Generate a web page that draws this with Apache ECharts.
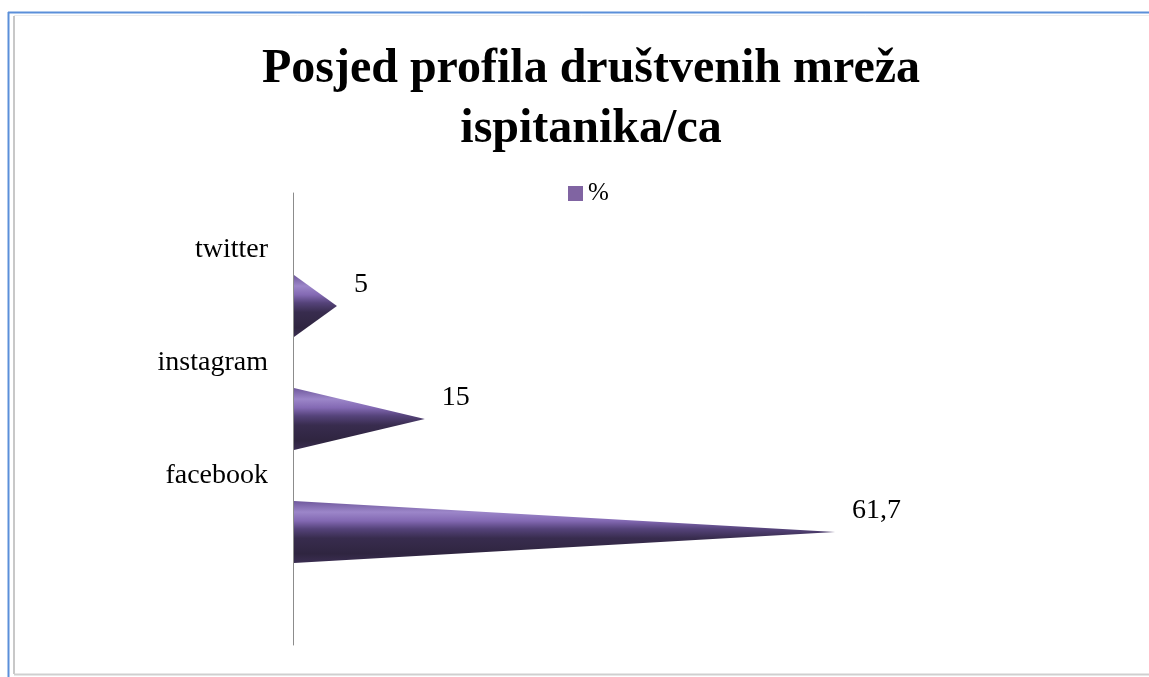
<!DOCTYPE html>
<html>
<head>
<meta charset="utf-8">
<script src="https://cdn.jsdelivr.net/npm/echarts@6/dist/echarts.min.js"></script>
<style>html,body{margin:0;padding:0;background:#fff;}#c{width:1149px;height:677px;}</style>
</head>
<body>
<div id="c"></div>
<script>
// Data
const categories = ['', 'facebook', 'instagram', 'twitter']; // bottom to top
const seriesCategories = ['facebook', 'instagram', 'twitter'];
const values = [61.7, 15, 5];
const valueLabels = ['61,7', '15', '5'];
const seriesName = '%';
const titleLine1 = 'Posjed profila društvenih mreža';
const titleLine2 = 'ispitanika/ca';

const chart = echarts.init(document.getElementById('c'));
const serif = '"Liberation Serif", "DejaVu Serif", serif';

const data = seriesCategories.map((c, i) => [values[i], categories.indexOf(c), valueLabels[i]]);

const coneGradient = new echarts.graphic.LinearGradient(0, 0, 0, 1, [
  {offset: 0, color: '#6f589c'},
  {offset: 0.18, color: '#9c86c9'},
  {offset: 0.32, color: '#8369b3'},
  {offset: 0.45, color: '#55437a'},
  {offset: 0.6, color: '#382c4e'},
  {offset: 0.85, color: '#2f2540'},
  {offset: 1, color: '#3b2e52'}
]);

chart.setOption({
  animation: false,
  backgroundColor: '#fff',
  title: [
    {text: titleLine1, left: 586, top: 41, textAlign: 'center',
     textStyle: {fontFamily: serif, fontWeight: 'bold', fontSize: 48, color: '#000'}},
    {text: titleLine2, left: 586, top: 101, textAlign: 'center',
     textStyle: {fontFamily: serif, fontWeight: 'bold', fontSize: 48, color: '#000'}}
  ],
  legend: {
    left: 563, top: 176, itemWidth: 15, itemHeight: 15, itemGap: 6,
    data: [{name: seriesName, icon: 'rect', itemStyle: {color: '#8064a2'}}],
    textStyle: {fontFamily: serif, fontSize: 25, color: '#000'}
  },
  grid: {left: 293, top: 193, bottom: 32, right: 241},
  xAxis: {type: 'value', min: 0, max: 70, show: false},
  yAxis: {
    type: 'category', data: categories,
    axisLine: {show: true, lineStyle: {color: '#8c8c8c', width: 1}},
    axisTick: {show: false},
    axisLabel: {fontFamily: serif, fontSize: 28, color: '#000', margin: 25}
  },
  series: [{
    type: 'custom', name: seriesName,
    itemStyle: {color: '#8064a2'},
    encode: {x: 0, y: 1},
    data: data,
    renderItem: function (params, api) {
      const v = api.value(0), ci = api.value(1);
      const tip = api.coord([v, ci]);
      const base = api.coord([0, ci]);
      const band = api.size([0, 1])[1];
      const yc = tip[1] + band * 0.5;
      const half = band * 0.275;
      return {
        type: 'group',
        children: [
          {type: 'polygon', shape: {points: [[base[0] + 1, yc - half], [tip[0], yc], [base[0] + 1, yc + half]]},
           style: {fill: coneGradient}},
          {type: 'text', x: tip[0] + 17, y: yc - 21,
           style: {text: data[params.dataIndex][2], fontFamily: serif, fontSize: 28, fill: '#000',
                   verticalAlign: 'middle', align: 'left'}}
        ]
      };
    }
  }],
  graphic: [
    {type: 'line', shape: {x1: 8.5, y1: 12, x2: 8.5, y2: 677}, style: {stroke: '#5b8fd9', lineWidth: 2}},
    {type: 'line', shape: {x1: 8, y1: 12.5, x2: 1149, y2: 12.5}, style: {stroke: '#5b8fd9', lineWidth: 2}},
    {type: 'line', shape: {x1: 14, y1: 16, x2: 14, y2: 674}, style: {stroke: '#c8c8c8', lineWidth: 2}},
    {type: 'line', shape: {x1: 14, y1: 15.5, x2: 1149, y2: 15.5}, style: {stroke: '#ececec', lineWidth: 1}},
    {type: 'line', shape: {x1: 14, y1: 674.5, x2: 1149, y2: 674.5}, style: {stroke: '#cfcfcf', lineWidth: 2}}
  ]
});
</script>
</body>
</html>
